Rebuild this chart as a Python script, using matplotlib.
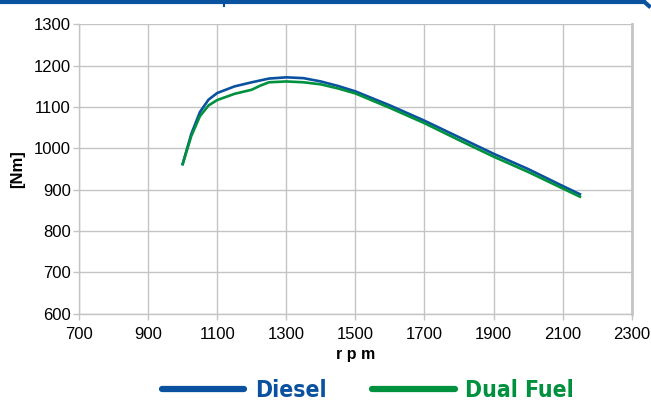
import matplotlib
matplotlib.use("Agg")
import matplotlib.pyplot as plt
from matplotlib.lines import Line2D

# torque curves
rpm_diesel = [1000, 1025, 1050, 1075, 1100, 1150, 1200, 1250, 1300, 1350, 1400,
              1450, 1500, 1600, 1700, 1800, 1900, 2000, 2100, 2150]
nm_diesel = [962, 1035, 1088, 1118, 1134, 1150, 1160, 1169, 1172, 1170, 1162,
             1151, 1138, 1104, 1067, 1027, 987, 950, 909, 889]

rpm_dual = [1000, 1025, 1050, 1075, 1100, 1150, 1200, 1225, 1250, 1300, 1350,
            1400, 1450, 1500, 1600, 1700, 1800, 1900, 2000, 2100, 2150]
nm_dual = [962, 1030, 1078, 1104, 1117, 1132, 1142, 1152, 1160, 1162, 1160,
           1155, 1145, 1133, 1098, 1061, 1020, 980, 943, 903, 883]

x_ticks = list(range(700, 2301, 200))
y_ticks = list(range(600, 1301, 100))

BLUE = "#0a52a0"
GREEN = "#00913f"
GRID = "#c4c4c4"

plt.rcParams["font.family"] = ["Liberation Sans", "DejaVu Sans"]

fig = plt.figure(figsize=(6.51, 4.01), dpi=100)
ax = fig.add_axes([0.1214, 0.218, 0.849, 0.721])

ax.plot(rpm_diesel, nm_diesel, color=BLUE, lw=1.9, zorder=3)
ax.plot(rpm_dual, nm_dual, color=GREEN, lw=1.9, zorder=3)

ax.set_xlim(700, 2300)
ax.set_ylim(600, 1300)
ax.set_xticks(x_ticks)
ax.set_yticks(y_ticks)
ax.grid(True, color=GRID, lw=1.0)
ax.set_axisbelow(True)

ax.tick_params(axis="both", colors=GRID, labelcolor="black", labelsize=12,
               length=4, width=1)
ax.tick_params(axis="x", pad=6)
ax.tick_params(axis="y", pad=2)
for side in ("left", "bottom"):
    ax.spines[side].set_color(GRID)
    ax.spines[side].set_linewidth(1.0)
ax.spines["top"].set_visible(False)
ax.spines["right"].set_color(GRID)
ax.spines["right"].set_linewidth(2.0)

ax.set_xlabel("r p m", fontsize=11.5, fontweight="bold", labelpad=3)
ax.set_ylabel("[Nm]", fontsize=12, fontweight="bold", labelpad=6)

# legend along the bottom
handles = [Line2D([], [], color=BLUE, lw=4.5, solid_capstyle="round"),
           Line2D([], [], color=GREEN, lw=4.5, solid_capstyle="round")]
leg = fig.legend(handles, ["Diesel", "Dual Fuel"], loc="center",
                 bbox_to_anchor=(0.565, 0.026), ncol=2, frameon=False,
                 handlelength=3.6, handletextpad=0.45, columnspacing=2.0,
                 borderpad=0.0,
                 prop={"family": "DejaVu Sans", "stretch": "condensed",
                       "weight": "bold", "size": 16.5})
for txt, col in zip(leg.get_texts(), [BLUE, GREEN]):
    txt.set_color(col)

# blue frame line along the top edge
fig.add_artist(Line2D([0, 0.99], [0.995, 0.995], color=BLUE, lw=3,
                      transform=fig.transFigure))
fig.add_artist(Line2D([0.99, 0.997], [0.995, 0.985], color=BLUE, lw=3,
                      transform=fig.transFigure))
fig.add_artist(Line2D([0.344, 0.344], [1.0, 0.985], color=BLUE, lw=1.5,
                      transform=fig.transFigure))

fig.savefig("out.png", dpi=100)
